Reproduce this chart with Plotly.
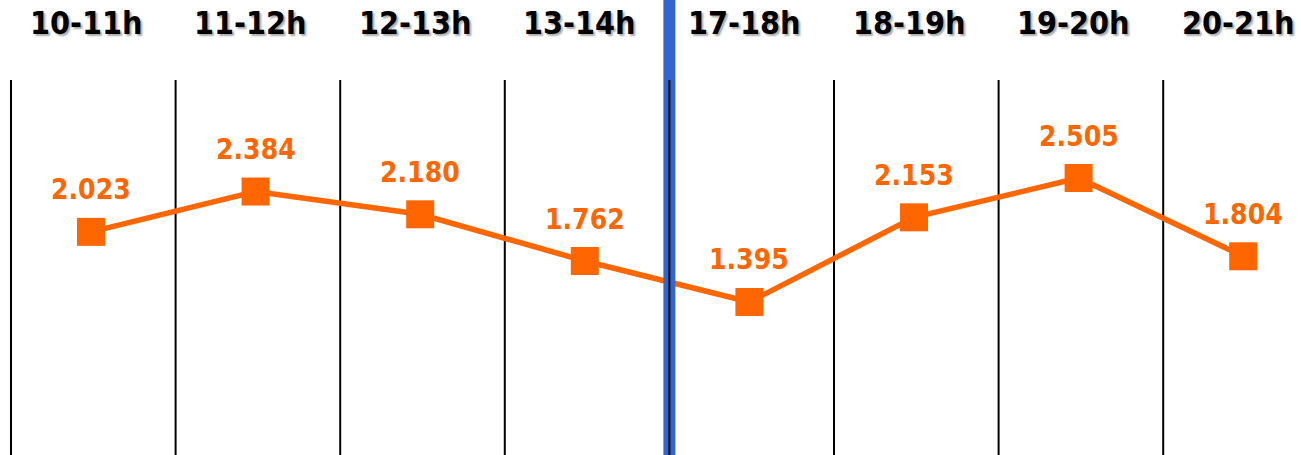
import plotly.graph_objects as go

categories = ["10-11h", "11-12h", "12-13h", "13-14h", "17-18h", "18-19h", "19-20h", "20-21h"]
values = [2.023, 2.384, 2.180, 1.762, 1.395, 2.153, 2.505, 1.804]
value_labels = ["2.023", "2.384", "2.180", "1.762", "1.395", "2.153", "2.505", "1.804"]

W, H = 1301, 455
ORANGE = "#FF6600"
FONT = "DejaVu Sans Condensed, DejaVu Sans, Verdana, sans-serif"

xs = list(range(len(categories)))

fig = go.Figure()
fig.add_trace(go.Scatter(
    x=xs, y=values, mode="lines+markers",
    line=dict(color=ORANGE, width=5.5),
    marker=dict(symbol="square", size=28, color=ORANGE),
    hoverinfo="skip", showlegend=False,
))

shapes = []
for i in range(len(categories)):
    xb = i - 0.486
    if i == 4:
        shapes.append(dict(type="line", xref="x", yref="paper", x0=xb, x1=xb, y0=0, y1=1,
                           line=dict(color="#3366CC", width=12), layer="above"))
    shapes.append(dict(type="line", xref="x", yref="paper", x0=xb, x1=xb, y0=0, y1=1 - 80 / H,
                       line=dict(color="black", width=2), layer="below" if i != 4 else "above"))

annotations = []
for i, (c, v, t) in enumerate(zip(categories, values, value_labels)):
    annotations.append(dict(x=i, y=v, xref="x", yref="y", text=t, showarrow=False,
                            yshift=42, font=dict(family=FONT, size=28, color=ORANGE, weight="bold")))
    annotations.append(dict(x=i - 0.03, y=1 - 23 / H, xref="x", yref="paper", text=c, showarrow=False,
                            yanchor="middle",
                            font=dict(family=FONT, size=32, color="black", weight="bold",
                                      shadow="2px 2px 2px #aaaaaa")))

fig.update_layout(
    width=W, height=H,
    margin=dict(l=0, r=0, t=0, b=0),
    paper_bgcolor="white", plot_bgcolor="white",
    xaxis=dict(range=[-91 / 164.6, (W - 91) / 164.6], visible=False, fixedrange=True),
    yaxis=dict(range=[0.025, 4.099], visible=False, fixedrange=True),
    shapes=shapes, annotations=annotations,
)

fig.write_html("out.html", config={"displayModeBar": False},
               post_script="document.body.style.margin='0px';document.body.style.overflow='hidden';")
